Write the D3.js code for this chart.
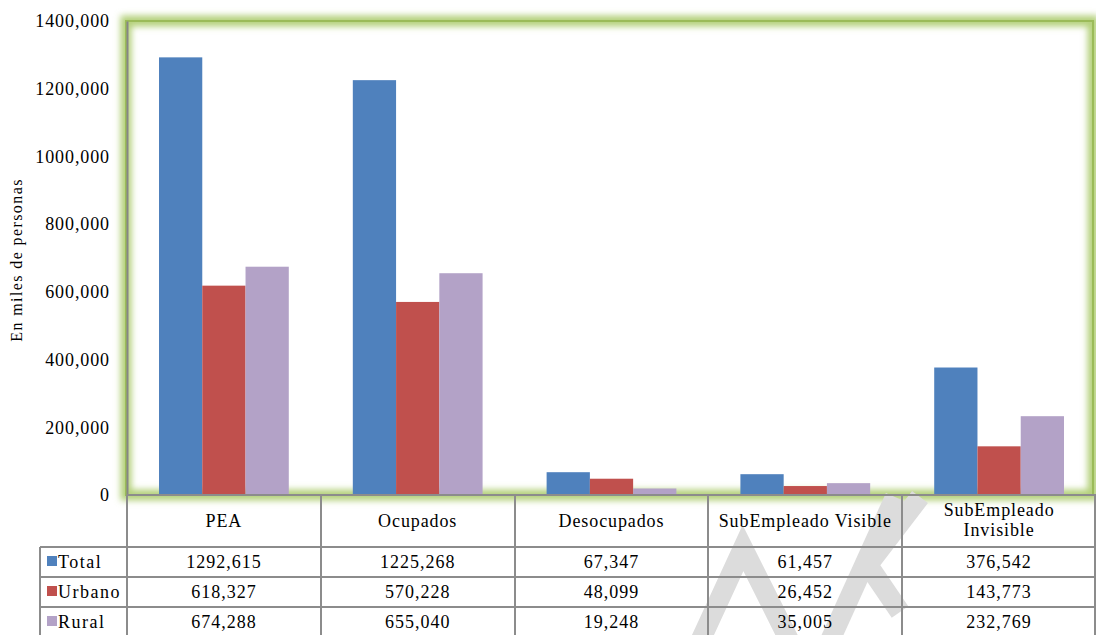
<!DOCTYPE html>
<meta charset="utf-8">
<style>

body {
  margin: 0;
  background: #fff;
}

text {
  font-family: "Liberation Serif", "Times New Roman", serif;
  fill: #000;
}

.axis path {
  stroke: #868686;
  stroke-width: 2;
}

.grid line {
  stroke: #8c8c8c;
  stroke-width: 2;
  shape-rendering: crispEdges;
}

</style>
<body>
<script src="https://cdn.jsdelivr.net/npm/d3@7"></script>
<script>

var categories = ["PEA", "Ocupados", "Desocupados", "SubEmpleado Visible", "SubEmpleado Invisible"];
var series = ["Total", "Urbano", "Rural"];
var total = [1292615, 1225268, 67347, 61457, 376542];
var urbano = [618327, 570228, 48099, 26452, 143773];
var rural = [674288, 655040, 19248, 35005, 232769];
var yTicks = [0, 200000, 400000, 600000, 800000, 1000000, 1200000, 1400000];
var yTickLabels = ["0", "200,000", "400,000", "600,000", "800,000", "1000,000", "1200,000", "1400,000"];
var colors = ["#4f81bd", "#c0504d", "#b3a2c7"];
var yTitle = "En miles de personas";

var values = [total, urbano, rural];

var width = 1096, height = 635;
var plotLeft = 127, plotRight = 1096, plotTop = 21, base = 495;
var rowH = [52, 30, 30, 30];
var serif = "'Liberation Serif', 'Times New Roman', serif";

// number in the table: thousands part without separator
function fmt(v) {
  if (v < 1000) return String(v);
  return Math.floor(v / 1000) + "," + String(v % 1000).padStart(3, "0");
}

var x0 = d3.scaleBand().domain(categories).range([plotLeft, plotRight]).padding(0);
var x1 = d3.scaleBand().domain(series).range([0, x0.bandwidth()]).paddingInner(0).paddingOuter(0.74);
var y = d3.scaleLinear().domain([0, 1400000]).range([base, plotTop]);

var svg = d3.select("body").append("svg")
    .attr("width", width)
    .attr("height", height);

svg.append("defs").append("filter").attr("id", "glow")
    .attr("x", "-5%").attr("y", "-5%").attr("width", "110%").attr("height", "110%")
  .append("feGaussianBlur").attr("stdDeviation", 3);

// green glowing plot frame
var fx = plotLeft - 1, fy = plotTop, fw = 1093 - fx, fh = base - plotTop;
svg.append("rect")
    .attr("x", fx).attr("y", fy).attr("width", fw).attr("height", fh)
    .attr("fill", "#fff");
svg.append("rect")
    .attr("x", fx).attr("y", fy).attr("width", fw).attr("height", fh)
    .attr("fill", "none")
    .attr("stroke", "#b4d07a")
    .attr("stroke-width", 11)
    .attr("filter", "url(#glow)");
svg.append("rect")
    .attr("x", fx).attr("y", fy).attr("width", fw).attr("height", fh)
    .attr("fill", "none")
    .attr("stroke", "#9bbb59")
    .attr("stroke-width", 2);

// bars
var groups = svg.selectAll("g.cat")
    .data(categories)
  .enter().append("g")
    .attr("class", "cat")
    .attr("transform", function(d) { return "translate(" + x0(d) + ",0)"; });

groups.selectAll("rect")
    .data(function(d, i) { return series.map(function(s, j) { return {s: s, v: values[j][i], j: j}; }); })
  .enter().append("rect")
    .attr("x", function(d) { return x1(d.s); })
    .attr("y", function(d) { return y(d.v); })
    .attr("width", x1.bandwidth())
    .attr("height", function(d) { return base - y(d.v); })
    .attr("fill", function(d) { return colors[d.j]; });

// y axis
var axis = svg.append("g")
    .attr("class", "axis")
    .attr("transform", "translate(" + plotLeft + ",0)")
    .call(d3.axisLeft(y)
      .tickValues(yTicks)
      .tickSize(0)
      .tickPadding(17)
      .tickFormat(function(d, i) { return yTickLabels[i]; }));
axis.selectAll("text")
    .style("font-family", serif)
    .style("font-size", "18px")
    .style("letter-spacing", "0.9px")
    .attr("fill", "#000");

svg.append("text")
    .attr("transform", "translate(22," + ((plotTop + base) / 2 + 2) + ") rotate(-90)")
    .attr("text-anchor", "middle")
    .style("font-size", "16px")
    .style("letter-spacing", "1.4px")
    .text(yTitle);

// watermark
var wm = svg.append("g").attr("fill", "none").attr("stroke", "#dcdcdc").attr("stroke-width", 20);
wm.append("path").attr("d", "M697,648L743,548L793,648");
wm.append("path").attr("d", "M895,497L828,645");
wm.append("path").attr("d", "M920,497L868,565L900,612");

// data table
var rowY = [base];
rowH.forEach(function(h) { rowY.push(rowY[rowY.length - 1] + h); });

var grid = svg.append("g").attr("class", "grid");
grid.append("line").attr("x1", plotLeft).attr("x2", plotRight).attr("y1", base).attr("y2", base);
rowY.slice(1).forEach(function(yy) {
  grid.append("line").attr("x1", 40).attr("x2", plotRight).attr("y1", yy).attr("y2", yy);
});
grid.append("line").attr("x1", 40).attr("x2", 40).attr("y1", rowY[1]).attr("y2", height);
categories.forEach(function(c) {
  grid.append("line").attr("x1", x0(c)).attr("x2", x0(c)).attr("y1", base).attr("y2", height);
});
grid.append("line").attr("x1", plotRight - 1).attr("x2", plotRight - 1).attr("y1", base).attr("y2", height);

// header row
var head = svg.selectAll("text.head")
    .data(categories)
  .enter().append("text")
    .attr("class", "head")
    .attr("text-anchor", "middle")
    .style("font-size", "18px")
    .style("letter-spacing", "0.9px")
    .attr("x", function(d) { return x0(d) + x0.bandwidth() / 2; })
    .attr("y", base + rowH[0] / 2 + 6)
    .text(function(d) { return d; });

head.each(function(d) {
  var t = d3.select(this);
  if (this.getComputedTextLength() > x0.bandwidth() - 12) {
    var words = d.split(" ");
    var cx = x0(d) + x0.bandwidth() / 2;
    t.text(null).attr("y", base + 21);
    words.forEach(function(w, k) {
      t.append("tspan").attr("x", cx).attr("dy", k ? 20 : 0).text(w);
    });
  }
});

// legend keys + values
series.forEach(function(s, j) {
  var cy = rowY[j + 1] + rowH[j + 1] / 2;
  svg.append("rect")
      .attr("x", 47).attr("y", cy - 6)
      .attr("width", 10).attr("height", 10)
      .attr("fill", colors[j]);
  svg.append("text")
      .attr("x", 58).attr("y", cy + 6)
      .style("font-size", "18px")
      .style("letter-spacing", "1.5px")
      .text(s);
  svg.selectAll(null)
      .data(values[j])
    .enter().append("text")
      .attr("text-anchor", "middle")
      .style("font-size", "18px")
      .style("letter-spacing", "1px")
      .attr("x", function(d, i) { return x0(categories[i]) + x0.bandwidth() / 2; })
      .attr("y", cy + 6)
      .text(function(d) { return fmt(d); });
});

</script>
